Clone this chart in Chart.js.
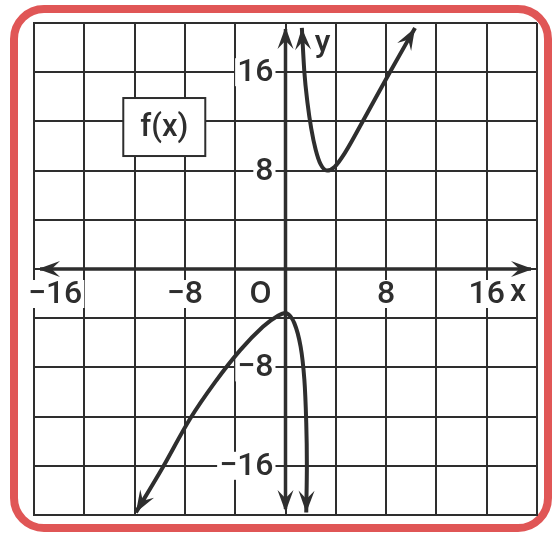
<!DOCTYPE html>
<html>
<head>
<meta charset="utf-8">
<script src="https://cdn.jsdelivr.net/npm/chart.js@4.4.1/dist/chart.umd.min.js"></script>
<style>
    html, body { margin: 0; padding: 0; background: #fff; }
    #graph { display: block; }
</style>
</head>
<body>
<canvas id="graph" width="553" height="535"></canvas>
<script>
// Values (graph units, 4 per grid square)
const upperX = [1.3, 1.5, 1.75, 2.05, 2.4, 2.8, 3.3, 3.9, 4.7, 6.3, 8.3, 10.3];
const upperY = [19.6, 16.0, 13.5, 11.4, 9.7, 8.5, 8.0, 8.3, 9.4, 12.3, 16.0, 19.6];

const lowerX = [-11.9, -9.8, -7.6, -5.6, -3.6, -1.8, -0.6, 0.1, 0.7, 1.2, 1.5, 1.65, 1.7, 1.65];
const lowerY = [-19.8, -16.2, -12.2, -9.2, -6.6, -4.7, -3.8, -3.6, -4.4, -6.3, -9.0, -12.5, -16.0, -19.8];

const xTickLabels = [-16, -8, 8, 16];
const yTickLabels = [16, 8, -8, -16];
const axisMin = -20;
const axisMax = 20;
const gridStep = 4;

const INK = "#2e2e2e";
const FONT = "Roboto, 'Liberation Sans', sans-serif";

function toPoints(xs, ys) {
    return xs.map((x, i) => ({ x: x, y: ys[i] }));
}

function fmt(v) {
    return v < 0 ? "\u2212" + Math.abs(v) : String(v);
}

// Filled arrow head with a notched back, tip at (x, y) pointing along angle
function arrowHead(ctx, x, y, angle, len, half) {
    ctx.save();
    ctx.translate(x, y);
    ctx.rotate(angle);
    ctx.beginPath();
    ctx.moveTo(0, 0);
    ctx.lineTo(-len, -half);
    ctx.lineTo(-len * 0.62, 0);
    ctx.lineTo(-len, half);
    ctx.closePath();
    ctx.fillStyle = INK;
    ctx.fill();
    ctx.restore();
}

function labelWithBack(ctx, text, x, y, align) {
    ctx.textAlign = align;
    const w = ctx.measureText(text).width;
    let left = x - w / 2;
    if (align === "right") left = x - w;
    if (align === "left") left = x;
    ctx.fillStyle = "#fff";
    ctx.fillRect(left - 2, y - 14, w + 4, 28);
    ctx.fillStyle = INK;
    ctx.fillText(text, x, y + 1);
}

const paperPlugin = {
    id: "paper",
    beforeDraw(chart) {
        const ctx = chart.ctx;
        ctx.save();
        ctx.fillStyle = "#fff";
        ctx.fillRect(0, 0, chart.width, chart.height);
        // red rounded frame
        ctx.strokeStyle = "#e05656";
        ctx.lineWidth = 8;
        ctx.beginPath();
        ctx.roundRect(14, 9, chart.width - 19, chart.height - 16, 30);
        ctx.stroke();
        ctx.restore();
    },
    beforeDatasetsDraw(chart) {
        const ctx = chart.ctx;
        const xs = chart.scales.x;
        const ys = chart.scales.y;
        const x0 = xs.getPixelForValue(0);
        const y0 = ys.getPixelForValue(0);
        const left = xs.getPixelForValue(axisMin);
        const right = xs.getPixelForValue(axisMax);
        const top = ys.getPixelForValue(axisMax);
        const bottom = ys.getPixelForValue(axisMin);

        ctx.save();
        ctx.font = "500 32px " + FONT;
        ctx.textBaseline = "middle";

        // x tick labels under the axis
        xTickLabels.forEach((v, i) => {
            const px = xs.getPixelForValue(v);
            if (i === 0) labelWithBack(ctx, fmt(v), px - 2, y0 + 25, "right");
            else labelWithBack(ctx, fmt(v), px, y0 + 25, "center");
        });
        labelWithBack(ctx, "O", x0 - 25, y0 + 25, "center");
        labelWithBack(ctx, "x", right - 19, y0 + 23, "center");

        // y tick labels left of the axis
        yTickLabels.forEach((v) => {
            const py = ys.getPixelForValue(v);
            labelWithBack(ctx, fmt(v), x0 - 12, py, "right");
        });
        labelWithBack(ctx, "y", x0 + 37, top + 20, "center");

        // f(x) box
        const bx = xs.getPixelForValue(-12.9);
        const by = ys.getPixelForValue(13.9);
        ctx.fillStyle = "#fff";
        ctx.fillRect(bx, by, 82, 58);
        ctx.strokeStyle = INK;
        ctx.lineWidth = 2;
        ctx.strokeRect(bx, by, 82, 58);
        ctx.fillStyle = INK;
        ctx.textAlign = "center";
        ctx.font = "500 31px " + FONT;
        ctx.fillText("f(x)", bx + 41, by + 30);

        // axes
        ctx.strokeStyle = INK;
        ctx.lineWidth = 3.5;
        ctx.beginPath();
        ctx.moveTo(left + 6, y0);
        ctx.lineTo(right - 6, y0);
        ctx.moveTo(x0, top + 6);
        ctx.lineTo(x0, bottom - 6);
        ctx.stroke();
        arrowHead(ctx, left + 4, y0, Math.PI, 22, 8);
        arrowHead(ctx, right - 4, y0, 0, 22, 8);
        arrowHead(ctx, x0, top + 4, -Math.PI / 2, 22, 8);
        arrowHead(ctx, x0, bottom - 3, Math.PI / 2, 22, 8);
        ctx.restore();
    },
    afterDatasetsDraw(chart) {
        const ctx = chart.ctx;
        chart.data.datasets.forEach((ds, di) => {
            const pts = chart.getDatasetMeta(di).data;
            const ends = [[pts[0], pts[1]], [pts[pts.length - 1], pts[pts.length - 2]]];
            ends.forEach(([tip, prev]) => {
                const a = Math.atan2(tip.y - prev.y, tip.x - prev.x);
                arrowHead(ctx, tip.x, tip.y, a, 22, 8);
            });
        });
    },
};

const gridOpts = {
    color: INK,
    lineWidth: 2,
    drawTicks: false,
};

new Chart(document.getElementById("graph"), {
    type: "scatter",
    data: {
        datasets: [
            {
                data: toPoints(upperX, upperY),
                showLine: true,
                borderColor: INK,
                borderWidth: 4,
                pointRadius: 0,
                cubicInterpolationMode: "monotone",
            },
            {
                data: toPoints(lowerX, lowerY),
                showLine: true,
                borderColor: INK,
                borderWidth: 4,
                pointRadius: 0,
                tension: 0.3,
            },
        ],
    },
    options: {
        responsive: false,
        animation: false,
        devicePixelRatio: 1,
        layout: { padding: { left: 34, right: 16, top: 23, bottom: 20 } },
        plugins: { legend: { display: false }, tooltip: { enabled: false } },
        scales: {
            x: {
                type: "linear",
                min: axisMin,
                max: axisMax,
                ticks: { display: false, stepSize: gridStep },
                grid: gridOpts,
                border: { color: INK, width: 2 },
            },
            y: {
                type: "linear",
                min: axisMin,
                max: axisMax,
                ticks: { display: false, stepSize: gridStep },
                grid: gridOpts,
                border: { color: INK, width: 2 },
            },
        },
    },
    plugins: [paperPlugin],
});
</script>
</body>
</html>
